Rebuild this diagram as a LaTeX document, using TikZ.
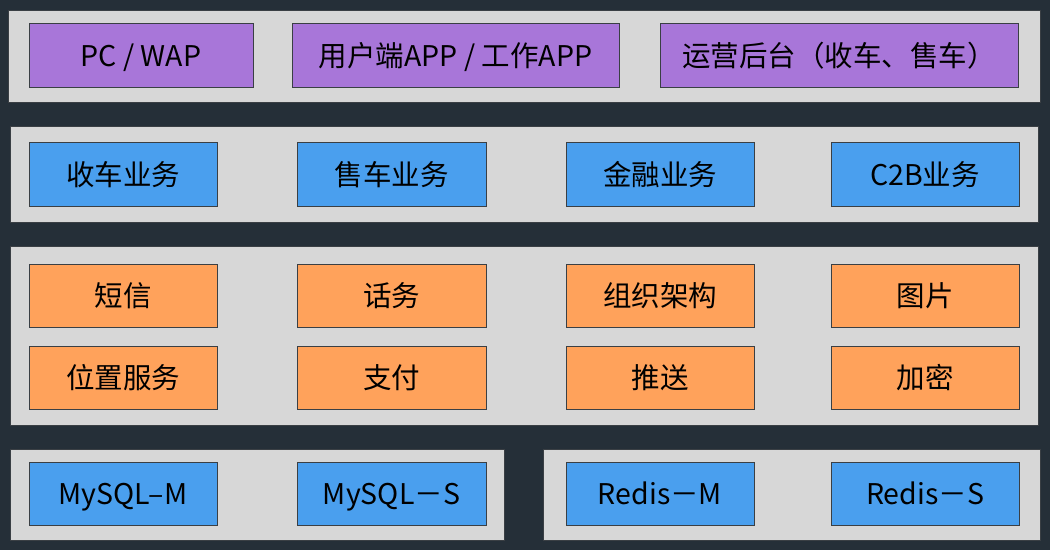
\documentclass[tikz,border=0pt]{standalone}
\usepackage{fontspec}
\setmainfont{Noto Sans CJK SC}
\definecolor{bgdark}{HTML}{252F38}
\definecolor{panelgray}{HTML}{D7D7D7}
\definecolor{edgedark}{HTML}{3A3F44}
\definecolor{purplebox}{HTML}{A876D9}
\definecolor{bluebox}{HTML}{4A9FEE}
\definecolor{orangebox}{HTML}{FFA25B}
\begin{document}
\begin{tikzpicture}[x=1pt,y=-1pt,
  panel/.style={draw=edgedark,fill=panelgray,line width=1pt},
  cell/.style={draw=edgedark,line width=1pt,inner sep=0pt,
    text height=24pt,text depth=2pt,
    font=\fontsize{28.5}{32}\selectfont,text=black},
  pbox/.style={cell,fill=purplebox},
  bbox/.style={cell,fill=bluebox},
  obox/.style={cell,fill=orangebox}]
\useasboundingbox (0,0) rectangle (1050,550);
\fill[bgdark] (0,0) rectangle (1050,550);
% panels
\draw[panel] (8,10) rectangle (1040,102) coordinate (p1);
\draw[panel] (10,126) rectangle (1038,222) coordinate (p2);
\draw[panel] (10,246) rectangle (1038,425) coordinate (p3);
\draw[panel] (10,449) rectangle (504,540) coordinate (p4);
\draw[panel] (543,449) rectangle (1040,540) coordinate (p5);
\newcommand{\bx}[7]{\node[#1,minimum width=#4-#3,minimum height=#6-#5] (#2) at ({(#3+#4)/2},{(#5+#6)/2}) {#7};}
% row 1
\bx{pbox}{pc}{29}{253}{23}{87}{PC / WAP}
\bx{pbox}{app}{292}{619}{23}{87}{用户端APP / 工作APP}
\bx{pbox}{ops}{660}{1018}{23}{87}{运营后台（收车、售车）}
% row 2
\bx{bbox}{shou}{29}{217}{142}{206}{收车业务}
\bx{bbox}{shouc}{297}{486}{142}{206}{售车业务}
\bx{bbox}{jin}{566}{754}{142}{206}{金融业务}
\bx{bbox}{ctb}{831}{1019}{142}{206}{C2B业务}
% row 3
\bx{obox}{sms}{29}{217}{264}{327}{短信}
\bx{obox}{call}{297}{486}{264}{327}{话务}
\bx{obox}{org}{566}{754}{264}{327}{组织架构}
\bx{obox}{img}{831}{1019}{264}{327}{图片}
% row 4
\bx{obox}{loc}{29}{217}{346}{409}{位置服务}
\bx{obox}{pay}{297}{486}{346}{409}{支付}
\bx{obox}{push}{566}{754}{346}{409}{推送}
\bx{obox}{enc}{831}{1019}{346}{409}{加密}
% row 5
\bx{bbox}{mm}{29}{217}{462}{525}{MySQL–M}
\bx{bbox}{ms}{297}{486}{462}{525}{MySQL－S}
\bx{bbox}{rm}{566}{754}{462}{525}{Redis－M}
\bx{bbox}{rs}{831}{1019}{462}{525}{Redis－S}
\end{tikzpicture}
\end{document}
